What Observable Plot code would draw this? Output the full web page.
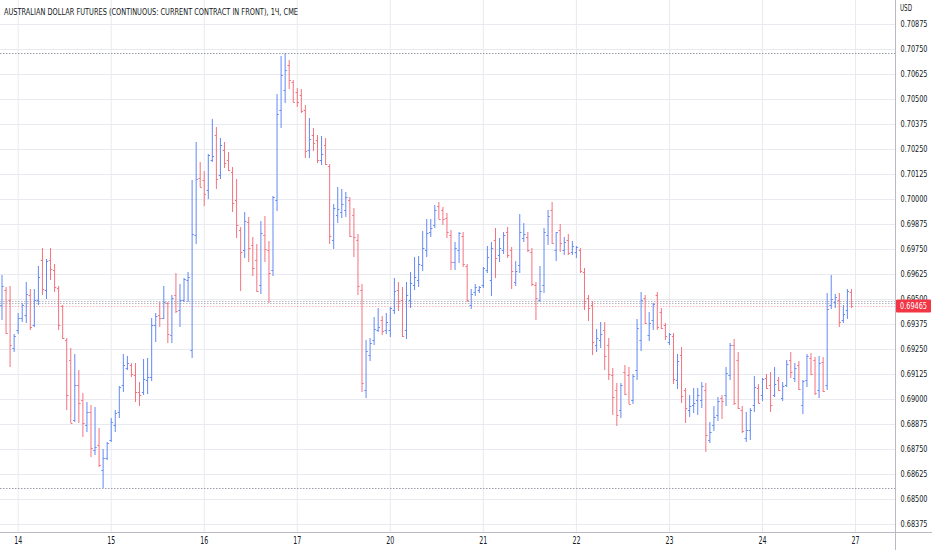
<!DOCTYPE html>
<html>
<head>
<meta charset="utf-8">
<script src="https://cdn.jsdelivr.net/npm/d3@7"></script>
<script src="https://cdn.jsdelivr.net/npm/@observablehq/plot@0.6"></script>
<style>
  html, body { margin: 0; padding: 0; background: #ffffff; }
  #chart svg { display: block; }
</style>
</head>
<body>
<div id="chart"></div>
<script>
const title = "AUSTRALIAN DOLLAR FUTURES (CONTINUOUS: CURRENT CONTRACT IN FRONT), 1Ч, CME";
const currency = "USD";
const dayLabels = ["14", "15", "16", "17", "20", "21", "22", "23", "24", "27"];
const dayIndex = [4, 27, 50, 73, 96, 119, 142, 165, 188, 211];
const priceTicks = [0.68375, 0.68500, 0.68625, 0.68750, 0.68875, 0.69000, 0.69125, 0.69250, 0.69375, 0.69500,
  0.69625, 0.69750, 0.69875, 0.70000, 0.70125, 0.70250, 0.70375, 0.70500, 0.70625, 0.70750, 0.70875];
const lastPrice = 0.69465;
const quoteLines = [0.69490, 0.69480];

const open = [
0.69470,0.69545,0.69495,0.69255,0.69345,0.69405,0.69420,0.69520,0.69370,0.69495,
0.69695,0.69545,0.69695,0.69645,0.69555,0.69465,0.69295,0.69195,0.68895,0.69070,
0.68995,0.68870,0.68935,0.68745,0.68770,0.68645,0.68705,0.68795,0.68870,0.68935,
0.69070,0.69155,0.69170,0.69120,0.69035,0.69035,0.69095,0.69110,0.69370,0.69420,
0.69405,0.69480,0.69320,0.69520,0.69445,0.69495,0.69595,0.69245,0.69820,0.70105,
0.70095,0.70045,0.70195,0.70320,0.70120,0.70245,0.70195,0.70135,0.69995,0.69845,
0.69745,0.69885,0.69770,0.69695,0.69570,0.69820,0.69745,0.69645,0.69995,0.70445,
0.70545,0.70670,0.70585,0.70535,0.70520,0.70445,0.70245,0.70320,0.70295,0.70195,
0.70270,0.70165,0.69795,0.69920,0.69935,0.69945,0.69995,0.69920,0.69795,0.69545,
0.69045,0.69220,0.69295,0.69345,0.69395,0.69345,0.69345,0.69445,0.69545,0.69495,
0.69345,0.69495,0.69570,0.69595,0.69670,0.69745,0.69835,0.69870,0.69965,0.69945,
0.69905,0.69820,0.69685,0.69745,0.69815,0.69665,0.69470,0.69535,0.69545,0.69570,
0.69645,0.69595,0.69795,0.69720,0.69745,0.69835,0.69745,0.69585,0.69670,0.69805,
0.69810,0.69735,0.69570,0.69495,0.69570,0.69820,0.69945,0.69745,0.69845,0.69745,
0.69795,0.69735,0.69735,0.69745,0.69635,0.69505,0.69470,0.69270,0.69295,0.69345,
0.69270,0.69120,0.69045,0.68945,0.69135,0.69120,0.68995,0.69145,0.69295,0.69505,
0.69320,0.69395,0.69520,0.69435,0.69370,0.69285,0.69315,0.69095,0.69220,0.69045,
0.68945,0.68970,0.68995,0.68995,0.69045,0.68795,0.68870,0.68920,0.69005,0.69020,
0.69120,0.69270,0.69195,0.68945,0.68805,0.68845,0.68970,0.69055,0.69020,0.69105,
0.69070,0.69020,0.69095,0.69005,0.69070,0.69195,0.69105,0.69170,0.68970,0.69095,
0.69205,0.69195,0.69045,0.69185,0.69070,0.69470,0.69485,0.69495,0.69395,0.69445,
0.69535];

const high = [
0.69620,0.69560,0.69565,0.69325,0.69430,0.69480,0.69585,0.69550,0.69550,0.69665,
0.69755,0.69700,0.69755,0.69675,0.69565,0.69470,0.69305,0.69255,0.69225,0.69145,
0.69030,0.68985,0.68970,0.68960,0.68855,0.68750,0.68785,0.68905,0.68945,0.69065,
0.69225,0.69215,0.69180,0.69180,0.69085,0.69200,0.69205,0.69405,0.69430,0.69485,
0.69565,0.69485,0.69520,0.69630,0.69575,0.69605,0.69635,0.70095,0.70285,0.70185,
0.70140,0.70225,0.70400,0.70360,0.70305,0.70285,0.70235,0.70160,0.70100,0.69860,
0.69935,0.69910,0.69810,0.69775,0.69890,0.69915,0.69790,0.70015,0.70525,0.70715,
0.70730,0.70695,0.70595,0.70555,0.70550,0.70470,0.70405,0.70355,0.70320,0.70315,
0.70305,0.70175,0.69975,0.70060,0.70050,0.70035,0.70010,0.69955,0.69825,0.69575,
0.69295,0.69305,0.69410,0.69455,0.69415,0.69430,0.69460,0.69605,0.69585,0.69560,
0.69585,0.69635,0.69710,0.69715,0.69840,0.69900,0.69900,0.69970,0.69985,0.69960,
0.69930,0.69845,0.69785,0.69835,0.69835,0.69675,0.69550,0.69575,0.69565,0.69660,
0.69765,0.69785,0.69855,0.69805,0.69835,0.69860,0.69760,0.69690,0.69925,0.69880,
0.69835,0.69755,0.69585,0.69665,0.69855,0.69945,0.69985,0.69835,0.69875,0.69810,
0.69825,0.69790,0.69765,0.69755,0.69655,0.69520,0.69490,0.69350,0.69385,0.69385,
0.69305,0.69155,0.69080,0.69080,0.69170,0.69160,0.69125,0.69400,0.69535,0.69520,
0.69435,0.69480,0.69535,0.69455,0.69380,0.69330,0.69330,0.69225,0.69260,0.69055,
0.69020,0.69055,0.69055,0.69085,0.69080,0.68885,0.68965,0.69010,0.69020,0.69160,
0.69280,0.69300,0.69235,0.68965,0.68935,0.68955,0.69115,0.69075,0.69105,0.69125,
0.69135,0.69160,0.69110,0.69085,0.69195,0.69235,0.69180,0.69190,0.69095,0.69225,
0.69230,0.69210,0.69215,0.69210,0.69530,0.69620,0.69525,0.69530,0.69470,0.69550,
0.69550];

const low = [
0.69395,0.69325,0.69160,0.69235,0.69325,0.69385,0.69380,0.69345,0.69360,0.69470,
0.69520,0.69500,0.69595,0.69535,0.69345,0.69300,0.68945,0.68880,0.68885,0.68880,
0.68810,0.68835,0.68710,0.68720,0.68660,0.68555,0.68695,0.68785,0.68835,0.68905,
0.69035,0.69145,0.69110,0.68985,0.68965,0.69020,0.69025,0.69090,0.69285,0.69360,
0.69400,0.69280,0.69280,0.69430,0.69360,0.69485,0.69485,0.69205,0.69775,0.70060,
0.69965,0.70000,0.70185,0.70050,0.70100,0.70155,0.70140,0.69935,0.69805,0.69540,
0.69705,0.69685,0.69615,0.69535,0.69525,0.69685,0.69480,0.69615,0.69940,0.70355,
0.70480,0.70550,0.70485,0.70460,0.70430,0.70205,0.70205,0.70240,0.70180,0.70170,
0.70170,0.69775,0.69750,0.69880,0.69905,0.69910,0.69810,0.69710,0.69520,0.69035,
0.69005,0.69190,0.69270,0.69335,0.69320,0.69325,0.69310,0.69425,0.69440,0.69310,
0.69300,0.69455,0.69545,0.69560,0.69640,0.69710,0.69810,0.69855,0.69900,0.69870,
0.69805,0.69645,0.69645,0.69680,0.69660,0.69485,0.69450,0.69515,0.69530,0.69555,
0.69630,0.69515,0.69605,0.69685,0.69725,0.69705,0.69550,0.69565,0.69630,0.69785,
0.69735,0.69565,0.69395,0.69485,0.69530,0.69770,0.69775,0.69690,0.69735,0.69720,
0.69720,0.69720,0.69705,0.69630,0.69445,0.69390,0.69220,0.69235,0.69255,0.69145,
0.69095,0.68920,0.68865,0.68905,0.69020,0.68975,0.68975,0.69095,0.69240,0.69375,
0.69290,0.69345,0.69345,0.69350,0.69295,0.69270,0.69075,0.69050,0.68980,0.68880,
0.68910,0.68930,0.68920,0.68955,0.68735,0.68780,0.68840,0.68890,0.68900,0.68965,
0.69095,0.68970,0.68950,0.68830,0.68785,0.68795,0.68935,0.68980,0.68990,0.69050,
0.68935,0.69010,0.69040,0.68990,0.69060,0.69105,0.69085,0.69045,0.68925,0.69060,
0.69120,0.69020,0.69005,0.69035,0.69045,0.69450,0.69455,0.69360,0.69380,0.69400,
0.69455];

const close = [
0.69565,0.69330,0.69270,0.69315,0.69405,0.69470,0.69525,0.69360,0.69495,0.69610,
0.69550,0.69690,0.69650,0.69560,0.69370,0.69305,0.69020,0.68880,0.69070,0.68980,
0.68880,0.68935,0.68755,0.68760,0.68670,0.68705,0.68780,0.68885,0.68930,0.69060,
0.69170,0.69180,0.69125,0.69035,0.69020,0.69100,0.69110,0.69370,0.69415,0.69405,
0.69485,0.69325,0.69505,0.69440,0.69495,0.69600,0.69610,0.69825,0.70100,0.70060,
0.70025,0.70220,0.70215,0.70100,0.70270,0.70180,0.70145,0.69980,0.69870,0.69735,
0.69890,0.69755,0.69655,0.69540,0.69830,0.69750,0.69630,0.70010,0.70425,0.70620,
0.70645,0.70595,0.70485,0.70485,0.70440,0.70240,0.70300,0.70280,0.70195,0.70225,
0.70175,0.69815,0.69955,0.69950,0.69975,0.70010,0.69815,0.69810,0.69565,0.69080,
0.69240,0.69280,0.69350,0.69360,0.69340,0.69385,0.69455,0.69540,0.69490,0.69315,
0.69520,0.69580,0.69610,0.69675,0.69755,0.69830,0.69855,0.69945,0.69900,0.69900,
0.69835,0.69685,0.69755,0.69830,0.69675,0.69495,0.69525,0.69560,0.69560,0.69655,
0.69710,0.69755,0.69705,0.69755,0.69820,0.69720,0.69640,0.69640,0.69835,0.69825,
0.69745,0.69575,0.69505,0.69540,0.69835,0.69915,0.69780,0.69835,0.69780,0.69785,
0.69730,0.69765,0.69760,0.69640,0.69490,0.69455,0.69285,0.69305,0.69325,0.69215,
0.69125,0.69010,0.68920,0.69070,0.69025,0.68975,0.69115,0.69355,0.69495,0.69380,
0.69380,0.69475,0.69360,0.69355,0.69315,0.69325,0.69100,0.69190,0.69015,0.68955,
0.68965,0.68980,0.69020,0.69065,0.68820,0.68835,0.68910,0.68990,0.68990,0.69130,
0.69270,0.68980,0.68955,0.68840,0.68845,0.68945,0.69060,0.68980,0.69100,0.69055,
0.68970,0.69075,0.69045,0.69065,0.69175,0.69135,0.69155,0.69050,0.69090,0.69215,
0.69125,0.69030,0.69180,0.69040,0.69450,0.69500,0.69510,0.69385,0.69425,0.69540,
0.69465];

const UP = "#6289f5";
const DOWN = "#f2737f";
const bars = open.map((o, i) => ({
  i, open: o, high: high[i], low: low[i], close: close[i],
  color: close[i] >= o ? UP : DOWN
}));

const W = 932, H = 550, axisX = 895, axisY = 532;
const font = "'Liberation Sans Narrow', 'DejaVu Sans Condensed', 'Roboto Condensed', 'Liberation Sans', Arial, sans-serif";

const chart = Plot.plot({
  width: W,
  height: H,
  marginLeft: 0,
  marginRight: W - axisX,
  marginTop: 0,
  marginBottom: H - axisY,
  x: { type: "linear", domain: [-0.37, 220.89], axis: null, label: null },
  y: { domain: [0.68335, 0.70995], axis: null, label: null },
  style: { fontFamily: font, fontSize: "10px", background: "#ffffff", color: "#131722" },
  marks: [
    Plot.gridY(priceTicks, { stroke: "#e8eaef", strokeOpacity: 1 }),
    Plot.gridX(dayIndex, { stroke: "#e8eaef", strokeOpacity: 1 }),
    Plot.ruleY([d3.max(high), d3.min(low)], { stroke: "#9a9ea8", strokeDasharray: "1.5,1.5", strokeWidth: 1 }),
    Plot.ruleY(quoteLines, { stroke: "#b6b9c1", strokeDasharray: "1.5,1.5", strokeWidth: 1 }),
    Plot.ruleY([lastPrice], { stroke: "#f23645", strokeOpacity: 0.35, strokeDasharray: "1.5,1.5", strokeWidth: 1 }),
    Plot.ruleX(bars, { x: "i", y1: "low", y2: "high", stroke: "color", strokeWidth: 1 }),
    Plot.link(bars, { x1: d => d.i - 0.42, x2: "i", y1: "open", y2: "open", stroke: "color", strokeWidth: 1 }),
    Plot.link(bars, { x1: "i", x2: d => d.i + 0.42, y1: "close", y2: "close", stroke: "color", strokeWidth: 1 }),
    Plot.axisY(priceTicks, {
      anchor: "right", tickSize: 0, tickPadding: 5, textAnchor: "start", label: null,
      tickFormat: d => d.toFixed(5), fill: "#131722", fontSize: 8.5
    }),
    Plot.axisX(dayIndex, {
      anchor: "bottom", tickSize: 0, tickPadding: 4, label: null,
      tickFormat: d => dayLabels[dayIndex.indexOf(d)], fill: "#131722", fontSize: 10
    })
  ]
});

document.getElementById("chart").appendChild(chart);

const svg = d3.select(chart);
const yS = chart.scale("y");

// condense the price labels to the narrow width of the reference
svg.selectAll("g[aria-label='y-axis tick label'] text")
  .attr("text-anchor", "start")
  .attr("textLength", 27)
  .attr("lengthAdjust", "spacingAndGlyphs");
svg.selectAll("g[aria-label='x-axis tick label'] text")
  .attr("textLength", 8)
  .attr("lengthAdjust", "spacingAndGlyphs");

// axis borders
svg.append("line").attr("x1", axisX + 0.5).attr("x2", axisX + 0.5).attr("y1", 0).attr("y2", H)
  .attr("stroke", "#b8bbc3").attr("stroke-width", 1);
svg.append("line").attr("x1", 0).attr("x2", W).attr("y1", axisY + 0.5).attr("y2", axisY + 0.5)
  .attr("stroke", "#b8bbc3").attr("stroke-width", 1);
// last price label
const ly = yS.apply(lastPrice);
svg.append("rect").attr("x", axisX + 1).attr("y", ly - 6.5).attr("width", W - axisX - 2).attr("height", 13)
  .attr("fill", "#f23645").attr("rx", 1);
svg.append("text").attr("x", axisX + 5).attr("y", ly).attr("dy", "0.35em")
  .attr("text-anchor", "start").attr("textLength", 27).attr("lengthAdjust", "spacingAndGlyphs")
  .attr("fill", "#ffffff").attr("font-size", 8.5).attr("font-family", font).text(lastPrice.toFixed(5));
// currency
svg.append("text").attr("x", axisX + 5).attr("y", 8).attr("dy", "0.35em")
  .attr("text-anchor", "start").attr("textLength", 12).attr("lengthAdjust", "spacingAndGlyphs")
  .attr("fill", "#131722").attr("font-size", 8.5).attr("font-family", font).text(currency);
// title
svg.append("text").attr("x", 4).attr("y", 12).attr("dy", "0.35em")
  .attr("text-anchor", "start")
  .attr("fill", "#131722").attr("font-size", 9.5).attr("font-family", font)
  .attr("textLength", 294).attr("lengthAdjust", "spacingAndGlyphs").text(title);
</script>
</body>
</html>
